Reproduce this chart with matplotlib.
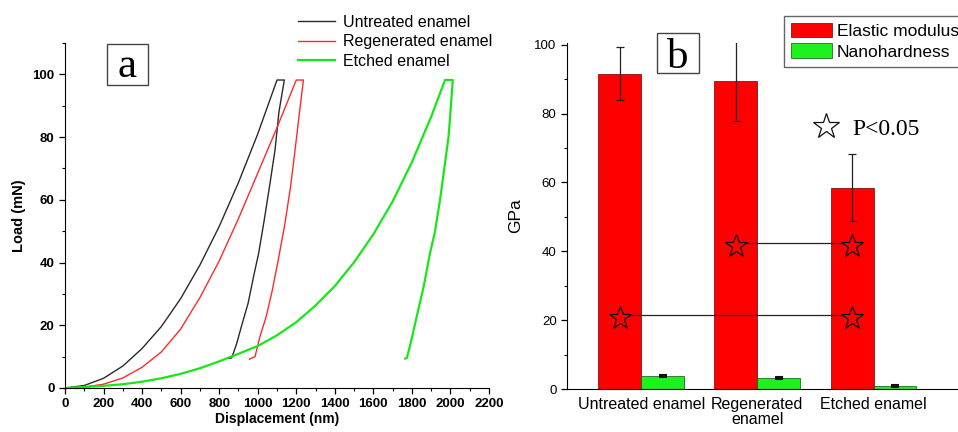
import matplotlib
matplotlib.use('Agg')
import matplotlib.pyplot as plt
from matplotlib.patches import Rectangle
from matplotlib.ticker import MultipleLocator
import numpy as np

plt.rcParams['font.family'] = ['Liberation Sans', 'DejaVu Sans']

# ---- panel a: load-displacement curves ----
untreated_load_d = [0, 100, 200, 300, 400, 500, 600, 700, 800, 900, 1000, 1100, 1138]
untreated_load_L = [0, 0.8, 3.1, 7.0, 12.6, 19.6, 28.5, 39.2, 51.5, 65.5, 81.0, 98.2, 98.2]
untreated_unload_d = [1138, 1110, 1090, 1064, 1035, 1005, 980, 950, 917, 890, 865, 852]
untreated_unload_L = [98.2, 88, 76, 65.4, 54, 43, 36, 27, 20, 14, 9.6, 9.4]

regen_load_d = [0, 100, 200, 300, 400, 500, 600, 700, 800, 900, 1000, 1100, 1200, 1237]
regen_load_L = [0, 0.3, 1.2, 3.2, 6.6, 11.5, 18.8, 28.8, 40.5, 54, 68.5, 83, 98.2, 98.2]
regen_unload_d = [1237, 1215, 1194, 1170, 1140, 1107, 1075, 1045, 1012, 986, 957]
regen_unload_L = [98.2, 87, 76, 64, 52, 41, 31, 23, 16.5, 10, 9.2]

etched_load_d = [0, 100, 200, 300, 400, 500, 600, 700, 800, 900, 1000, 1100, 1200,
                 1300, 1400, 1500, 1600, 1700, 1800, 1900, 1972, 2012]
etched_load_L = [0, 0.3, 0.7, 1.2, 2.0, 3.1, 4.5, 6.3, 8.5, 10.9, 13.4, 16.8, 21.0,
                 26.3, 32.5, 40.1, 49.0, 59.5, 72.0, 86.5, 98.2, 98.2]
etched_unload_d = [2012, 2000, 1990, 1968, 1946, 1920, 1894, 1860, 1825, 1800, 1780, 1773, 1765]
etched_unload_L = [98.2, 88, 80, 70, 60, 50, 43, 32, 22.8, 16, 11, 9.5, 9.4]

# ---- panel b: bars ----
groups = ['Untreated enamel', 'Regenerated\nenamel', 'Etched enamel']
modulus = [91.6, 89.5, 58.5]
modulus_err = [7.7, 11.7, 9.7]
hardness = [3.9, 3.1, 0.9]
hardness_err = [0.3, 0.3, 0.2]

fig = plt.figure(figsize=(9.58, 4.32), dpi=100)

# panel a
ax = fig.add_axes([65/958, 44/432, 424/958, 345/432])
ax.plot(untreated_load_d + untreated_unload_d, untreated_load_L + untreated_unload_L,
        color='#2a2a2a', lw=1.0, label='Untreated enamel')
ax.plot(regen_load_d + regen_unload_d, regen_load_L + regen_unload_L,
        color='#ff2a2a', lw=1.0, label='Regenerated enamel')
ax.plot(etched_load_d + etched_unload_d, etched_load_L + etched_unload_L,
        color='#19e619', lw=1.6, label='Etched enamel')
ax.set_xlim(0, 2200)
ax.set_ylim(0, 110)
ax.set_xticks(np.arange(0, 2201, 200))
ax.set_yticks(np.arange(0, 101, 20))
ax.xaxis.set_minor_locator(MultipleLocator(100))
ax.yaxis.set_minor_locator(MultipleLocator(10))
ax.spines['top'].set_visible(False)
ax.spines['right'].set_visible(False)
ax.tick_params(which='major', direction='out', length=4, width=0.9, labelsize=9.5)
ax.tick_params(which='minor', direction='out', length=2.5, width=0.8)
for lab in ax.get_xticklabels() + ax.get_yticklabels():
    lab.set_fontweight('bold')
ax.set_xlabel('Displacement (nm)', fontsize=10, fontweight='bold', labelpad=1)
ax.set_ylabel('Load (mN)', fontsize=10.5, fontweight='bold', labelpad=5)
fig.legend(*ax.get_legend_handles_labels(), loc='upper left',
           bbox_to_anchor=(298/958, 1 - 15/432), frameon=False, fontsize=11.5,
           borderpad=0, borderaxespad=0, handlelength=2.3, handletextpad=0.5,
           labelspacing=0.28)

# panel b
bx = fig.add_axes([567/958, 43/432, 411/958, 346/432])
x = np.arange(1, len(groups) + 1)
w = 0.37
bx.bar(x - w/2, modulus, w, color='#ff0000', edgecolor='#6a0000', lw=0.5,
       yerr=modulus_err, error_kw=dict(ecolor='#222222', elinewidth=0.9, capsize=3, capthick=0.9),
       label='Elastic modulus')
bx.bar(x + w/2, hardness, w, color='#1ef21e', edgecolor='#0a500a', lw=0.5,
       yerr=hardness_err, error_kw=dict(ecolor='#111111', elinewidth=0.9, capsize=3, capthick=1.5),
       label='Nanohardness')
bx.set_xlim(0.36, 3.9)
bx.set_ylim(0, 100.5)
bx.set_xticks(x)
bx.set_xticklabels(groups, fontsize=11.5, linespacing=1.0)
bx.set_yticks(np.arange(0, 101, 20))
bx.yaxis.set_minor_locator(MultipleLocator(10))
bx.spines['top'].set_visible(False)
bx.spines['right'].set_visible(False)
bx.tick_params(axis='x', length=0, pad=6)
bx.tick_params(axis='y', which='major', direction='out', length=4, width=0.9, labelsize=9.5)
bx.tick_params(axis='y', which='minor', direction='out', length=2.5, width=0.8)
bx.set_ylabel('GPa', fontsize=12.5, labelpad=8)

# significance marks
star_kw = dict(marker='*', markersize=17, markerfacecolor='none',
               markeredgecolor='#111111', markeredgewidth=0.9, linestyle='none')
bx.plot([x[0] - w/2, x[2] - w/2], [20.6, 20.6], **star_kw)
bx.plot([x[1] - w/2, x[2] - w/2], [41.4, 41.4], **star_kw)
bx.hlines(21.4, x[0] - w/2 + 0.09, x[2] - w/2 - 0.09, color='#222222', lw=0.9)
bx.hlines(42.4, x[1] - w/2 + 0.09, x[2] - w/2 - 0.09, color='#222222', lw=0.9)
bx.plot([2.593], [76.3], **dict(star_kw, markersize=19))
bx.text(2.817, 75.3, 'P<0.05', fontsize=17, family='Liberation Serif', va='center')

bx.legend(loc='upper left', bbox_to_anchor=(784/958, 1 - 16/432),
          bbox_transform=fig.transFigure, fontsize=12.5, fancybox=False,
          edgecolor='#666666', framealpha=1, borderpad=0.4, borderaxespad=0,
          handlelength=2.35, handleheight=0.9, handletextpad=0.3, labelspacing=0.25)

# panel letters in boxes (baseline placed so the glyph sits centred in its box)
for (x0, y0, x1, y1), letter, base in [((107, 44, 148, 85), 'a', 77),
                                        ((657, 33, 699, 73), 'b', 68)]:
    fig.add_artist(Rectangle((x0/958, 1 - y1/432), (x1 - x0)/958, (y1 - y0)/432,
                             transform=fig.transFigure, fill=False,
                             edgecolor='#444444', lw=1.0))
    fig.text((x0 + x1)/2/958, 1 - base/432, letter, fontsize=31,
             family='Liberation Serif', ha='center', va='baseline')

fig.savefig('out.png', dpi=100)
